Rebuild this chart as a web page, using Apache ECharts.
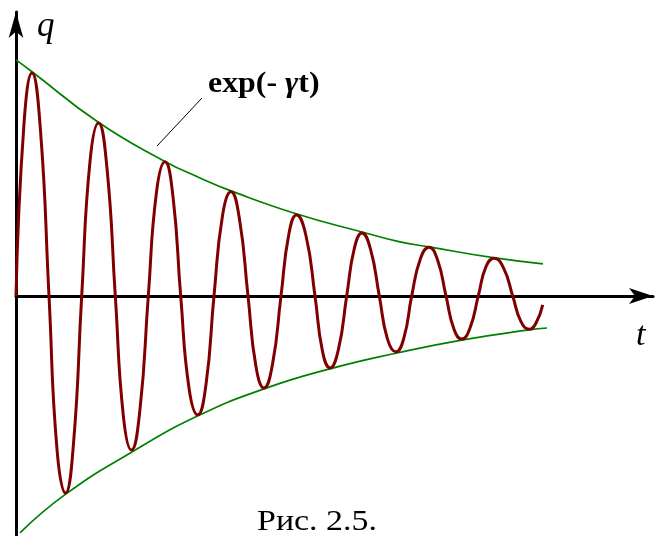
<!DOCTYPE html>
<html><head><meta charset="utf-8">
<script src="https://cdn.jsdelivr.net/npm/echarts@6/dist/echarts.min.js"></script>
<style>html,body{margin:0;padding:0;background:#fff}#c{width:656px;height:536px}</style>
</head><body><div id="c"></div>
<script>
// damped oscillation q(t): points (zeros, mid-slopes, peaks, troughs)
const oscT = [0,0.08,0.16,0.245,0.33,0.41,0.495,0.576,0.657,0.74,0.825,0.91,0.993,1.074,1.155,1.24,1.323,1.405,1.49,1.57,1.647,1.73,1.817,1.90,1.98,2.065,2.15,2.235,2.32,2.40,2.48,2.565,2.65,2.73,2.805,2.90,2.99,3.065,3.14,3.225,3.307,3.385,3.46,3.545,3.633,3.715,3.80,3.88,3.957,4.045,4.13,4.215,4.30,4.38,4.457,4.54,4.623,4.70,4.78,4.875,4.967,5.05,5.133,5.20,5.267];
const oscQ = [0,0.73,0.945,0.70,0,-0.65,-0.835,-0.62,0,0.57,0.733,0.54,0,-0.51,-0.653,-0.48,0,0.44,0.568,0.42,0,-0.39,-0.504,-0.375,0,0.34,0.441,0.325,0,-0.30,-0.390,-0.29,0,0.265,0.343,0.255,0,-0.235,-0.305,-0.225,0,0.205,0.267,0.198,0,-0.183,-0.237,-0.176,0,0.159,0.206,0.153,0,-0.141,-0.183,-0.136,0,0.124,0.160,0.119,0,-0.109,-0.141,-0.115,-0.038];
// envelope ±exp(-γt)
const upT = [0,0.16,0.82,1.48,1.84,2.15,2.81,3.46,3.84,4.13,4.79,5.27];
const upQ = [1.0,0.95,0.737,0.572,0.500,0.445,0.347,0.271,0.229,0.208,0.161,0.136];
const loT = [0.04,0.50,1.16,1.82,2.48,3.14,3.81,4.47,5.13,5.31];
const loQ = [-1.004,-0.839,-0.661,-0.508,-0.394,-0.309,-0.242,-0.186,-0.144,-0.136];
const caption = 'Рис. 2.5.';

const zip = (a,b)=>a.map((v,i)=>[v,b[i]]);
const chart = echarts.init(document.getElementById('c'), null, {renderer:'canvas'});
const serif = '"Liberation Serif","DejaVu Serif",serif';
chart.setOption({
  animation:false,
  backgroundColor:'#fff',
  grid:{left:16,right:3,top:12,bottom:1,containLabel:false},
  xAxis:{type:'value',min:0,max:6.37,
    axisLine:{onZero:true,symbol:['none','arrow'],symbolSize:[12,24],lineStyle:{color:'#000',width:3}},
    axisTick:{show:false},axisLabel:{show:false},splitLine:{show:false}},
  yAxis:{type:'value',min:-1.013,max:1.203,
    axisLine:{show:true,onZero:false,symbol:['none','arrow'],symbolSize:[11,26],lineStyle:{color:'#000',width:3}},
    axisTick:{show:false},axisLabel:{show:false},splitLine:{show:false}},
  series:[
    {type:'line',data:zip(upT,upQ),smooth:0.5,showSymbol:false,lineStyle:{color:'#008000',width:1.7},z:2},
    {type:'line',data:zip(loT,loQ),smooth:0.5,showSymbol:false,lineStyle:{color:'#008000',width:1.7},z:2},
    {type:'line',data:zip(oscT,oscQ),smooth:0.5,showSymbol:false,lineStyle:{color:'#800000',width:3},z:3}
  ],
  graphic:[
    {type:'line',shape:{x1:157,y1:146,x2:202,y2:98},style:{stroke:'#000',lineWidth:1}},
    {type:'text',x:208,y:85,scaleX:1.1,style:{
      text:'{b|exp(- }{g|γ}{b|t)}',verticalAlign:'middle',
      rich:{b:{fontFamily:serif,fontWeight:'bold',fontSize:29,fill:'#000'},
            g:{fontFamily:serif,fontWeight:'bold',fontStyle:'italic',fontSize:29,fill:'#000'}}}},
    {type:'text',x:37,y:27,style:{text:'q',verticalAlign:'middle',fontFamily:serif,fontStyle:'italic',fontSize:35,fill:'#000'}},
    {type:'text',x:636,y:336,style:{text:'t',verticalAlign:'middle',fontFamily:serif,fontStyle:'italic',fontSize:34,fill:'#000'}},
    {type:'text',x:317,y:522,scaleX:1.13,style:{text:caption,align:'center',verticalAlign:'middle',fontFamily:serif,fontSize:30,fill:'#000'}}
  ]
});
</script></body></html>
